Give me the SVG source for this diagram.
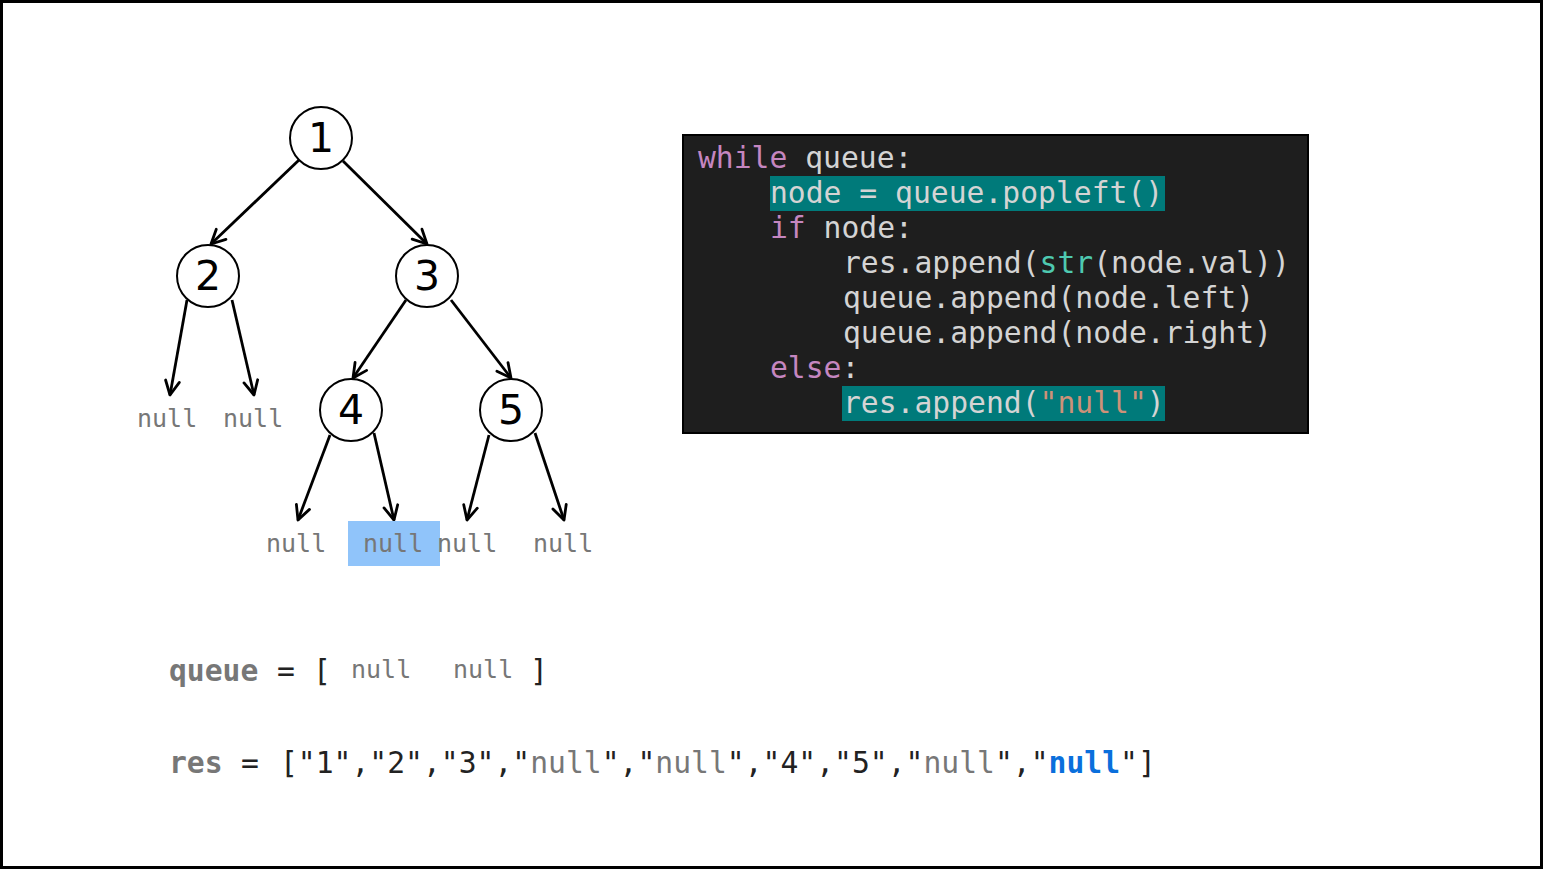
<svg xmlns="http://www.w3.org/2000/svg" width="1543" height="869" viewBox="0 0 1543 869">
<defs>
<marker id="arr" viewBox="0 0 20 20" refX="17" refY="10" markerWidth="20" markerHeight="20" markerUnits="userSpaceOnUse" orient="auto">
<path d="M3,3 L17,10 L3,17" fill="none" stroke="#000" stroke-width="2.8" stroke-linecap="round" stroke-linejoin="round"/>
</marker>
<style>
.edge{stroke:#000;stroke-width:2.8;fill:none;marker-end:url(#arr)}
.nc{fill:#fff;stroke:#000;stroke-width:2}
.nt{font-family:"DejaVu Sans",sans-serif;font-size:41px;fill:#000;text-anchor:middle}
.nul{font-family:"DejaVu Sans Mono",monospace;font-size:25px;fill:#777}
.code{font-family:"DejaVu Sans Mono",monospace;font-size:29.7px;fill:#d4d4d4}
.kw{fill:#c586c0}
.fn{fill:#4ec9b0}
.st{fill:#ce9178}
.hl{fill:#007a7a}
.mono{font-family:"DejaVu Sans Mono",monospace;font-size:29.7px;fill:#222}
.g{fill:#777}
.b{font-weight:bold}
</style>
</defs>
<rect x="1.5" y="1.5" width="1540" height="866" fill="#fff" stroke="#000" stroke-width="3"/>

<g id="connectors">
<line class="edge" x1="299" y1="160" x2="211" y2="244"/>
<line class="edge" x1="343" y1="161" x2="427" y2="244"/>
<line class="edge" x1="187" y1="300" x2="170" y2="395"/>
<line class="edge" x1="232" y1="300" x2="254" y2="395"/>
<line class="edge" x1="406" y1="300" x2="353" y2="378"/>
<line class="edge" x1="451" y1="300" x2="511" y2="378"/>
<line class="edge" x1="330" y1="435" x2="298" y2="520"/>
<line class="edge" x1="374" y1="433" x2="394" y2="520"/>
<line class="edge" x1="489" y1="435" x2="467" y2="520"/>
<line class="edge" x1="535" y1="433" x2="564" y2="520"/>
</g>

<g id="node1"><circle class="nc" cx="321" cy="138" r="31"/><text class="nt" x="321" y="152">1</text></g>
<g id="node2"><circle class="nc" cx="208" cy="276" r="31"/><text class="nt" x="208" y="290">2</text></g>
<g id="node3"><circle class="nc" cx="427" cy="276" r="31"/><text class="nt" x="427" y="290">3</text></g>
<g id="node4"><circle class="nc" cx="351" cy="410" r="31"/><text class="nt" x="351" y="424">4</text></g>
<g id="node5"><circle class="nc" cx="511" cy="410" r="31"/><text class="nt" x="511" y="424">5</text></g>

<g id="null-highlight"><rect x="348" y="521" width="92" height="45" fill="#90c4fa"/></g>
<g id="nulls">
<text class="nul" x="137" y="427">null</text>
<text class="nul" x="223" y="427">null</text>
<text class="nul" x="266" y="552">null</text>
<text class="nul" x="363" y="552">null</text>
<text class="nul" x="437" y="552">null</text>
<text class="nul" x="533" y="552">null</text>
</g>

<g id="code">
<rect x="683" y="135" width="625" height="298" fill="#1e1e1e" stroke="#000" stroke-width="2"/>
<rect class="hl" x="770" y="176" width="395" height="35"/>
<rect class="hl" x="842" y="386" width="323" height="35"/>
<text class="code" x="698" y="168"><tspan class="kw">while</tspan> queue:</text>
<text class="code" x="770" y="203">node = queue.popleft()</text>
<text class="code" x="770" y="238"><tspan class="kw">if</tspan> node:</text>
<text class="code" x="843" y="273">res.append(<tspan class="fn">str</tspan>(node.val))</text>
<text class="code" x="843" y="308">queue.append(node.left)</text>
<text class="code" x="843" y="343">queue.append(node.right)</text>
<text class="code" x="770" y="378"><tspan class="kw">else</tspan>:</text>
<text class="code" x="843" y="413">res.append(<tspan class="st">"null"</tspan>)</text>
</g>

<g id="queue">
<text class="mono" x="169" y="681"><tspan class="g b">queue</tspan><tspan x="277">=</tspan><tspan x="313">[</tspan><tspan x="530">]</tspan></text>
<text class="nul" x="351" y="678">null</text>
<text class="nul" x="453" y="678">null</text>
</g>

<g id="res">
<text class="mono" x="169" y="773"><tspan class="g b">res</tspan><tspan x="241">=</tspan><tspan x="280">["1","2","3","<tspan class="g">null</tspan>","<tspan class="g">null</tspan>","4","5","<tspan class="g">null</tspan>","<tspan class="b" fill="#0a6fdc">null</tspan>"]</tspan></text>
</g>
</svg>
